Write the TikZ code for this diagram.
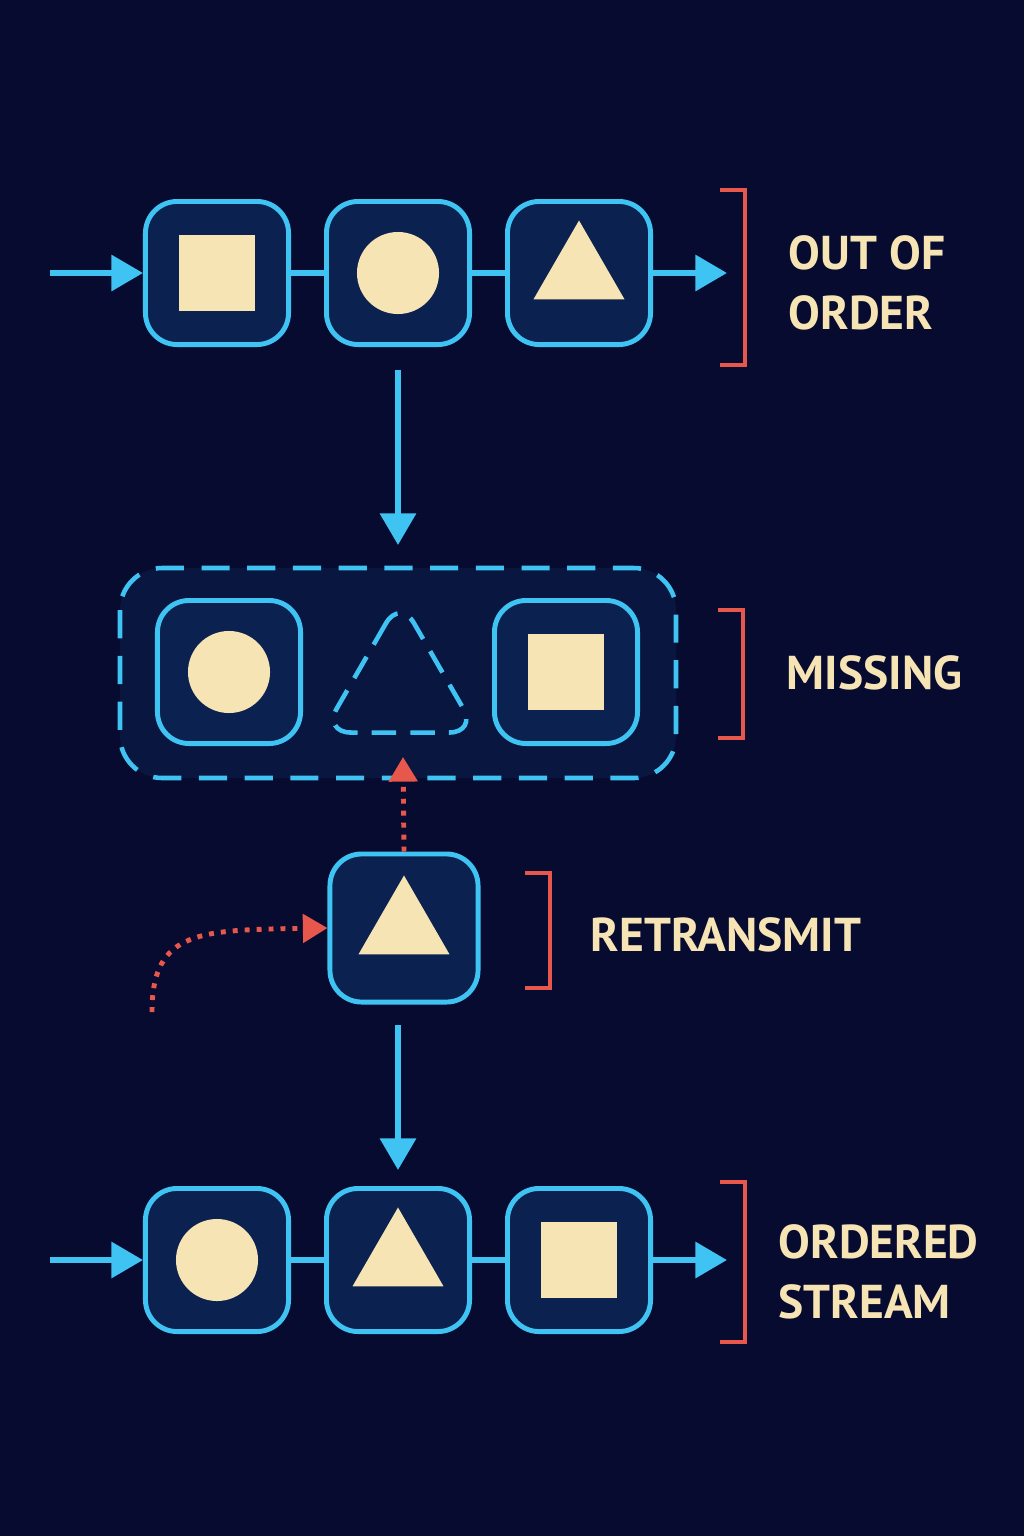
\documentclass[tikz,border=0pt]{standalone}
\usepackage{fontspec}
\setmainfont{PT Sans}
\usetikzlibrary{positioning, shapes.geometric, arrows.meta}
\definecolor{bgnavy}{HTML}{070B30}
\definecolor{boxfill}{HTML}{0B2150}
\definecolor{cyanline}{HTML}{3EC3F2}
\definecolor{cream}{HTML}{F7E4B4}
\definecolor{redline}{HTML}{E8574B}
\begin{document}
\begin{tikzpicture}[x=0.01cm, y=-0.01cm, >={Triangle[length=9pt, width=10pt]}]
			\tikzstyle{packet}=[rectangle, rounded corners=9pt, draw=cyanline, line width=1.4pt, fill=boxfill, minimum size=1.43cm, inner sep=0pt]
			\tikzstyle{sq}=[rectangle, fill=cream, minimum size=0.75cm, inner sep=0pt]
			\tikzstyle{ci}=[circle, fill=cream, minimum size=0.82cm, inner sep=0pt]
			\tikzstyle{tri}=[regular polygon, regular polygon sides=3, fill=cream, minimum size=1.05cm, inner sep=0pt]
			\tikzstyle{flow}=[->, draw=cyanline, line width=1.7pt]
			\tikzstyle{link}=[draw=cyanline, line width=1.6pt]
			\tikzstyle{retry}=[->, draw=redline, line width=1.4pt, dotted, >={Triangle[length=7pt, width=8pt]}]
			\tikzstyle{brace}=[draw=redline, line width=1.1pt]
			\tikzstyle{label}=[text=cream, font=\bfseries\fontsize{13.5}{17}\selectfont, align=left, anchor=west, inner sep=0pt]

			\fill[bgnavy] (0,0) rectangle (1024,1536);
			\useasboundingbox (0,0) rectangle (1024,1536);

			% Out of order row
			\foreach \kind [count=\x from 0] in {sq,ci,tri} {
				\node[packet] (O-\x) at (217+181*\x, 273) {};
				\node[\kind] at (O-\x) {};
			}
			\path[link] (O-0) -- (O-1) (O-1) -- (O-2);
			\coordinate (oin) at (50, 273);
			\coordinate (oout) at (727, 273);
			\draw[flow] (oin) -- (O-0);
			\draw[flow] (O-2) -- (oout);
			\draw[brace] (720,190) -- (745,190) -- (745,365) -- (720,365);
			\node[label] at (788, 283) {OUT OF\\ORDER};

			% Missing row
			\draw[cyanline, line width=1.3pt, dashed, dash pattern=on 8pt off 5pt, rounded corners=12pt, fill=boxfill!50!bgnavy] (120,568) rectangle (676,778);
			\node[packet] (M-0) at (229, 672) {};
			\node[ci] at (M-0) {};
			\node[packet] (M-2) at (566, 672) {};
			\node[sq] at (M-2) {};
			\node[regular polygon, regular polygon sides=3, draw=cyanline, line width=1.3pt, dashed, dash pattern=on 7pt off 4pt, rounded corners=8pt, minimum size=1.78cm, inner sep=0pt] (M-1) at (400, 688) {};
			\coordinate (obot) at (398, 370);
			\coordinate (mtop) at (398, 545);
			\draw[flow] (obot) -- (mtop);
			\draw[brace] (718,610) -- (743,610) -- (743,738) -- (718,738);
			\node[label] at (786, 673) {MISSING};

			% Retransmit
			\node[packet, minimum size=1.48cm] (R) at (404, 928) {};
			\node[tri] at (R) {};
			\coordinate (mgap) at (403, 757);
			\coordinate (rsrc) at (152, 1012);
			\draw[retry] (R.north) -- (mgap);
			\draw[retry] (rsrc) .. controls (152,930) and (200,930) .. (R.west);
			\draw[brace] (525,873) -- (550,873) -- (550,988) -- (525,988);
			\node[label] at (590, 935) {RETRANSMIT};

			% Ordered row
			\foreach \kind [count=\x from 0] in {ci,tri,sq} {
				\node[packet] (S-\x) at (217+181*\x, 1260) {};
				\node[\kind] at (S-\x) {};
			}
			\path[link] (S-0) -- (S-1) (S-1) -- (S-2);
			\coordinate (sin) at (50, 1260);
			\coordinate (sout) at (727, 1260);
			\coordinate (rbot) at (398, 1025);
			\coordinate (stop) at (398, 1170);
			\draw[flow] (rbot) -- (stop);
			\draw[flow] (sin) -- (S-0);
			\draw[flow] (S-2) -- (sout);
			\draw[brace] (720,1182) -- (745,1182) -- (745,1342) -- (720,1342);
			\node[label] at (778, 1272) {ORDERED\\STREAM};
\end{tikzpicture}
\end{document}
